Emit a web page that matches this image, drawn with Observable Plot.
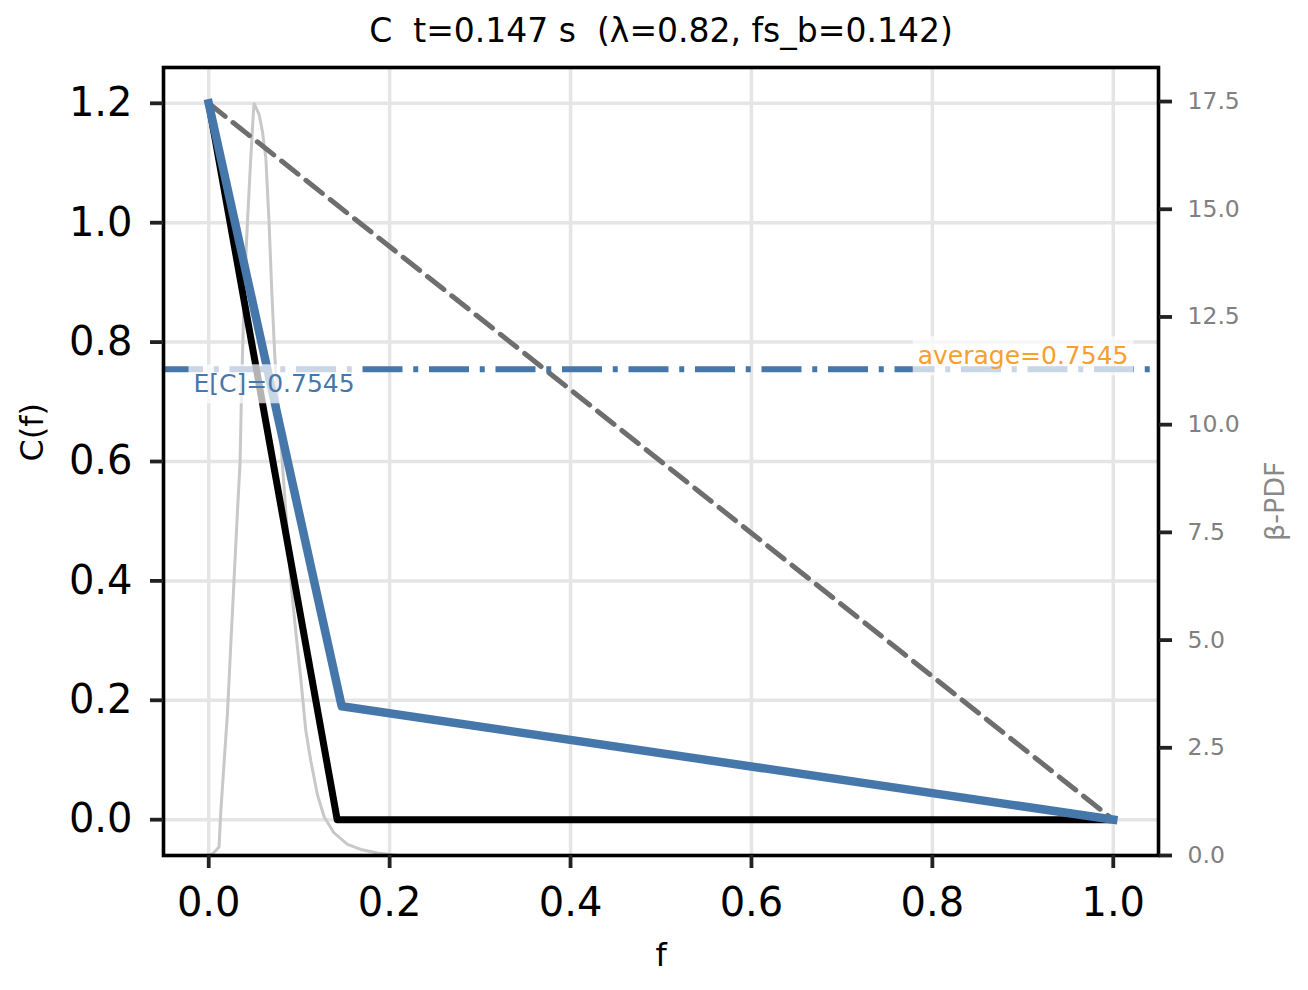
<!DOCTYPE html>
<html><head><meta charset="utf-8">
<script src="https://cdn.jsdelivr.net/npm/d3@7"></script>
<script src="https://cdn.jsdelivr.net/npm/@observablehq/plot@0.6"></script>
<style>
body{margin:0;background:#fff;}
#chart svg{display:block;}
</style></head><body><div id="chart"></div>
<script>
// ---- data ----
const titleText = "C  t=0.147 s  (\u03bb=0.82, fs_b=0.142)";
const fBlack = [0, 0.142, 1];
const cBlack = [1.2, 0, 0];
const fBlue = [0, 0.147, 1];
const cBlue = [1.2, 0.19, 0];
const fDiag = [0, 1];
const cDiag = [1.2, 0];
const expectedC = 0.7545;
const averageC = 0.7545;
const fPdf = [0, 0.005, 0.0114, 0.0133, 0.017, 0.0207, 0.0243, 0.028, 0.0317, 0.0346, 0.0365, 0.0393, 0.0428, 0.0465, 0.0495, 0.0502, 0.0557, 0.0594, 0.0631, 0.0667, 0.0697, 0.073, 0.08, 0.0907, 0.0962, 0.1018, 0.1073, 0.1128, 0.1203, 0.1276, 0.1383, 0.1534, 0.1681, 0.1866, 0.21, 1.0];
const pdfVals = [0, 0.05, 0.2, 1.0, 2.16, 3.3, 4.85, 6.4, 7.96, 9.1, 11.0, 13.1, 14.7, 16.2, 17.3, 17.45, 17.2, 16.8, 16.2, 14.7, 13.1, 11.6, 9.5, 6.4, 5.2, 4.1, 2.9, 2.2, 1.4, 0.9, 0.53, 0.26, 0.14, 0.06, 0, 0];
const xTicks = [0, 0.2, 0.4, 0.6, 0.8, 1.0];
const yTicks = [0, 0.2, 0.4, 0.6, 0.8, 1.0, 1.2];
const pdfTicks = [0, 2.5, 5, 7.5, 10, 12.5, 15, 17.5];

// ---- scales ----
const xDomain = [-0.05, 1.05];
const yDomain = [-0.06, 1.26];
const pdfDomain = [0, 18.29];
const toL = p => yDomain[0] + (p - pdfDomain[0]) * (yDomain[1] - yDomain[0]) / (pdfDomain[1] - pdfDomain[0]);
const fromL = v => pdfDomain[0] + (v - yDomain[0]) * (pdfDomain[1] - pdfDomain[0]) / (yDomain[1] - yDomain[0]);

const blackData = fBlack.map((f, i) => ({f, c: cBlack[i]}));
const blueData = fBlue.map((f, i) => ({f, c: cBlue[i]}));
const diagData = fDiag.map((f, i) => ({f, c: cDiag[i]}));
const pdfData = fPdf.map((f, i) => ({f, p: pdfVals[i]}));

const BLUE = "#4677aa";
const ORANGE = "#f5a030";
const FONT = "DejaVu Sans";

const plot = Plot.plot({
  width: 1308, height: 990,
  marginLeft: 163, marginRight: 150, marginTop: 67, marginBottom: 135,
  style: {fontFamily: FONT, background: "#fff", overflow: "visible"},
  x: {domain: xDomain},
  y: {domain: yDomain},
  marks: [
    Plot.gridX(xTicks, {stroke: "#e5e5e5", strokeOpacity: 1, strokeWidth: 3.5}),
    Plot.gridY(yTicks, {stroke: "#e5e5e5", strokeOpacity: 1, strokeWidth: 3.5}),
    Plot.line(pdfData, {x: "f", y: d => toL(d.p), stroke: "#c8c8c8", strokeWidth: 3, strokeLinejoin: "round"}),
    Plot.line(diagData, {x: "f", y: "c", stroke: "#6e6e6e", strokeWidth: 5, strokeDasharray: "21,10"}),
    Plot.ruleY([expectedC], {stroke: BLUE, strokeWidth: 6, strokeDasharray: "40,10.75,5,10.75"}),
    Plot.line(blackData, {x: "f", y: "c", stroke: "#000", strokeWidth: 7, strokeLinejoin: "round", strokeLinecap: "square"}),
    Plot.line(blueData, {x: "f", y: "c", stroke: BLUE, strokeWidth: 8.5, strokeLinejoin: "round", strokeLinecap: "square"}),
    Plot.frame({stroke: "#000", strokeWidth: 3.6}),
    Plot.axisX(xTicks, {tickSize: 13, tickPadding: 19, fontSize: 40, strokeWidth: 3.8, stroke: "#222", fill: "#000", tickFormat: d => d.toFixed(1), label: null}),
    Plot.axisY(yTicks, {anchor: "left", tickSize: 13, tickPadding: 18, fontSize: 40, strokeWidth: 3.8, stroke: "#222", fill: "#000", tickFormat: d => d.toFixed(1), label: null}),
    Plot.axisY(pdfTicks.map(toL), {anchor: "right", tickSize: 13, tickPadding: 16, fontSize: 23.5, strokeWidth: 3.8, stroke: "#222", fill: "#808080", tickFormat: v => fromL(v).toFixed(1), label: null}),
    Plot.text([titleText], {frameAnchor: "top", dy: -36, lineAnchor: "middle", fontSize: 33, fill: "#000"}),
    Plot.text(["C(f)"], {frameAnchor: "left", dx: -131, rotate: -90, lineAnchor: "middle", fontSize: 32, fill: "#000"}),
    Plot.text(["f"], {frameAnchor: "bottom", dy: 100, lineAnchor: "middle", fontSize: 32, fill: "#000"}),
    Plot.text(["\u03b2-PDF"], {frameAnchor: "right", dx: 117, rotate: -90, lineAnchor: "middle", fontSize: 27, fill: "#888"}),
    Plot.text([expectedC], {y: d => d, frameAnchor: "left", textAnchor: "start", dx: 30, dy: 15, lineAnchor: "middle", fontSize: 25, fill: BLUE, text: d => `E[C]=${d.toFixed(4)}`, className: "ann"}),
    Plot.text([averageC], {y: d => d, frameAnchor: "right", textAnchor: "end", dx: -30, dy: -13, lineAnchor: "middle", fontSize: 25, fill: ORANGE, text: d => `average=${d.toFixed(4)}`, className: "ann"})
  ]
});
document.getElementById("chart").append(plot);

// semi-transparent white boxes behind annotation texts
plot.querySelectorAll("g.ann text").forEach(t => {
  const b = t.getBBox();
  const pad = 5;
  const r = document.createElementNS("http://www.w3.org/2000/svg", "rect");
  r.setAttribute("x", b.x - pad);
  r.setAttribute("y", b.y - pad);
  r.setAttribute("width", b.width + 2 * pad);
  r.setAttribute("height", b.height + 2 * pad);
  r.setAttribute("fill", "#fff");
  r.setAttribute("fill-opacity", 0.7);
  r.setAttribute("stroke", "none");
  const tr = t.getAttribute("transform");
  if (tr) r.setAttribute("transform", tr);
  t.parentNode.insertBefore(r, t);
});
</script></body></html>
